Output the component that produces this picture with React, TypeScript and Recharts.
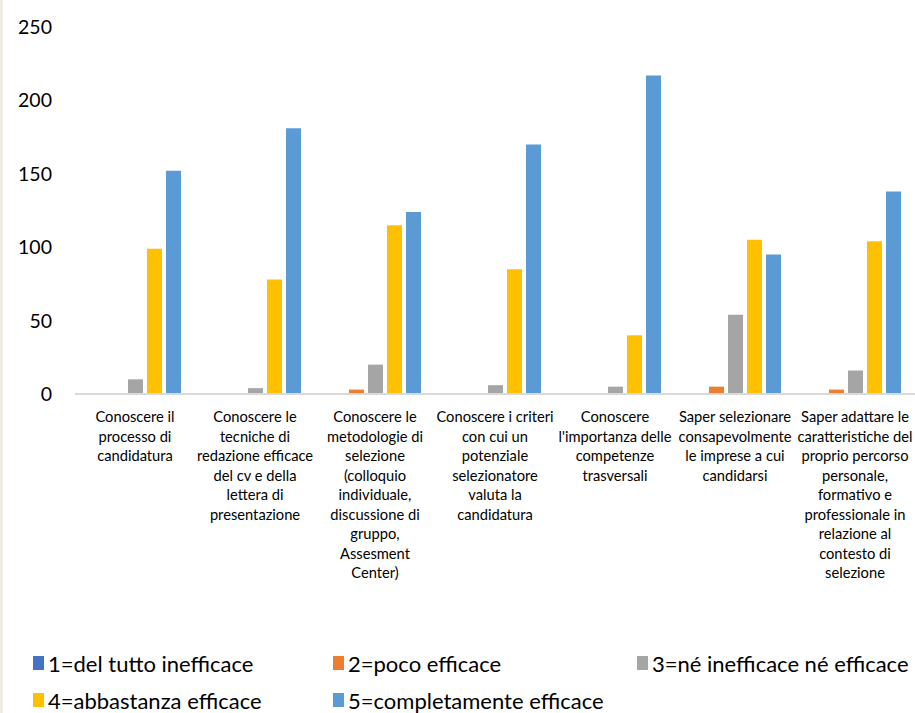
import React from "react";
import { BarChart, Bar, XAxis, YAxis } from "recharts";

const categories = [
  "Conoscere il\nprocesso di\ncandidatura",
  "Conoscere le\ntecniche di\nredazione efficace\ndel cv e della\nlettera di\npresentazione",
  "Conoscere le\nmetodologie di\nselezione\n(colloquio\nindividuale,\ndiscussione di\ngruppo,\nAssesment\nCenter)",
  "Conoscere i criteri\ncon cui un\npotenziale\nselezionatore\nvaluta la\ncandidatura",
  "Conoscere\nl'importanza delle\ncompetenze\ntrasversali",
  "Saper selezionare\nconsapevolmente\nle imprese a cui\ncandidarsi",
  "Saper adattare le\ncaratteristiche del\nproprio percorso\npersonale,\nformativo e\nprofessionale in\nrelazione al\ncontesto di\nselezione",
];

const seriesNames = [
  "1=del tutto inefficace",
  "2=poco efficace",
  "3=né inefficace né efficace",
  "4=abbastanza efficace",
  "5=completamente efficace",
];

const s1 = [0, 0, 0, 0, 0, 0, 0];
const s2 = [0, 0, 3, 0, 0, 5, 3];
const s3 = [10, 4, 20, 6, 5, 54, 16];
const s4 = [99, 78, 115, 85, 40, 105, 104];
const s5 = [152, 181, 124, 170, 217, 95, 138];

const yTicks = [0, 50, 100, 150, 200, 250];

const seriesValues = [s1, s2, s3, s4, s5];
const colors = ["#4472C4", "#ED7D31", "#A5A5A5", "#FFC000", "#5B9BD5"];
const keys = ["s1", "s2", "s3", "s4", "s5"];

const data = categories.map((c, i) => {
  const row: any = { name: c };
  keys.forEach((k, j) => (row[k] = seriesValues[j][i]));
  return row;
});

const FONT = "Lato, 'Open Sans', sans-serif";

const CatTick = (props: any) => {
  const { x, y, payload } = props;
  const lines = String(payload.value).split("\n");
  return (
    <text
      x={x}
      y={y}
      textAnchor="middle"
      fontFamily={FONT}
      fontSize={14.7}
      fill="#000"
    >
      {lines.map((l, i) => (
        <tspan key={i} x={x} dy={i === 0 ? 20 : 19.5}>
          {l}
        </tspan>
      ))}
    </text>
  );
};

export default function App() {
  return (
    <div
      style={{
        position: "absolute",
        left: 0,
        top: 0,
        width: 915,
        height: 713,
        background: "#fff",
        overflow: "hidden",
      }}
    >
      <div
        style={{
          position: "absolute",
          left: 0,
          top: 0,
          width: 3,
          height: 713,
          background: "#EEEBE3",
        }}
      />
      <BarChart
        width={915}
        height={600}
        data={data}
        margin={{ top: 27, right: 0, left: 0, bottom: 0 }}
        barSize={15}
        barGap={4}
      >
        <XAxis
          dataKey="name"
          interval={0}
          height={206}
          tickLine={false}
          axisLine={{ stroke: "#D9D9D9", strokeWidth: 2 }}
          tick={<CatTick />}
        />
        <YAxis
          width={75}
          domain={[0, 250]}
          ticks={yTicks}
          axisLine={false}
          tickLine={false}
          tickSize={0}
          tickMargin={23}
          tick={{ fontFamily: FONT, fontSize: 19.5, fill: "#000" }}
        />
        {keys.map((k, j) => (
          <Bar
            key={k}
            dataKey={k}
            name={seriesNames[j]}
            fill={colors[j]}
            isAnimationActive={false}
          />
        ))}
      </BarChart>
      {seriesNames.map((n, j) => {
        const col = j % 3;
        const row = Math.floor(j / 3);
        const lefts = [33, 333, 637];
        return (
          <div
            key={n}
            style={{
              position: "absolute",
              left: lefts[col],
              top: 650 + row * 37,
              height: 26,
              display: "flex",
              alignItems: "center",
              fontFamily: FONT,
              fontSize: 22,
              color: "#000",
              whiteSpace: "nowrap",
            }}
          >
            <span
              style={{
                display: "inline-block",
                width: 11,
                height: 14,
                background: colors[j],
                marginRight: 4,
              }}
            />
            {n}
          </div>
        );
      })}
    </div>
  );
}
